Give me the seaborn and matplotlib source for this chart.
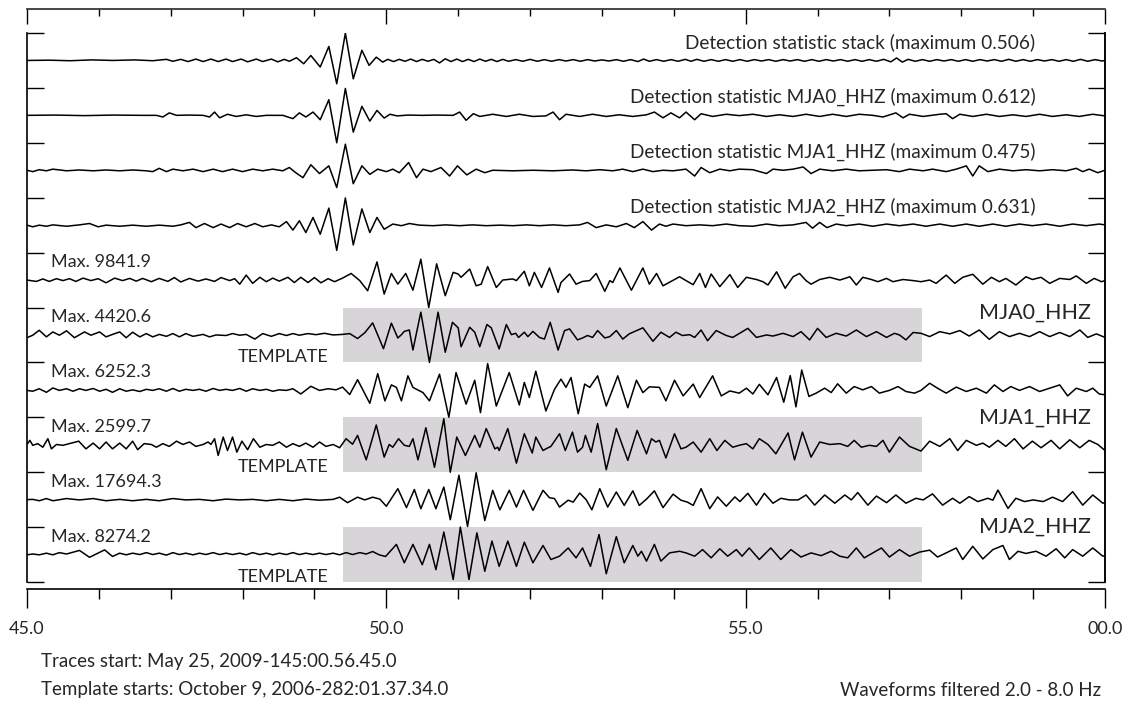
import matplotlib
matplotlib.use("Agg")
import pandas as pd
import matplotlib.pyplot as plt
from matplotlib.ticker import MultipleLocator
import seaborn as sns

# time (s after 00:56:45) and normalised amplitude of the extrema of each trace
det_stack = [
    (45.00, 0.00), (45.30, 0.01), (45.60, -0.01), (45.90, 0.02), (46.20, 0.00), (46.50, 0.02), (46.75, -0.01),
    (46.94, 0.04), (47.03, -0.03), (47.14, 0.04), (47.24, -0.04), (47.35, 0.05), (47.45, -0.04), (47.56, 0.05),
    (47.66, -0.04), (47.77, 0.05), (47.86, -0.04), (47.98, 0.05), (48.07, -0.05), (48.19, 0.05), (48.28, -0.04),
    (48.40, 0.05), (48.49, -0.05), (48.58, 0.04), (48.65, -0.03), (48.75, 0.10), (48.85, -0.12), (48.95, 0.18),
    (49.08, -0.24), (49.20, 0.51), (49.31, -0.85), (49.43, 1.00), (49.54, -0.67), (49.66, 0.37), (49.76, -0.18),
    (49.86, 0.12), (49.95, -0.06), (50.02, 0.04), (50.10, -0.04), (50.18, 0.04), (50.26, -0.03), (50.34, 0.05),
    (50.42, -0.04), (50.50, 0.04), (50.58, -0.03), (50.66, 0.04), (50.74, -0.09), (50.82, 0.06), (50.90, -0.04),
    (50.98, 0.05), (51.06, -0.04), (51.14, 0.04), (51.22, -0.04), (51.30, 0.05), (51.38, -0.03), (51.46, 0.04),
    (51.54, -0.04), (51.62, 0.04), (51.70, -0.03), (51.80, 0.03), (51.90, -0.03), (52.00, 0.04), (52.10, -0.03),
    (52.20, 0.03), (52.30, -0.03), (52.40, 0.03), (52.50, -0.02), (52.60, 0.03), (52.70, -0.03), (52.80, 0.03),
    (52.90, -0.02), (53.00, 0.02), (53.10, -0.02), (53.20, 0.03), (53.30, -0.03), (53.40, 0.03), (53.50, -0.04),
    (53.58, 0.05), (53.66, -0.03), (53.76, 0.03), (53.86, -0.03), (53.96, 0.03), (54.06, -0.03), (54.16, 0.04),
    (54.24, -0.03), (54.32, 0.04), (54.42, -0.03), (54.52, 0.03), (54.62, -0.03), (54.72, 0.03), (54.82, -0.03),
    (54.92, 0.03), (55.02, -0.03), (55.12, 0.03), (55.22, -0.02), (55.32, 0.03), (55.42, -0.03), (55.52, 0.03),
    (55.62, -0.02), (55.72, 0.03), (55.82, -0.03), (55.92, 0.03), (56.02, -0.03), (56.12, 0.03), (56.22, -0.02),
    (56.32, 0.03), (56.42, -0.03), (56.52, 0.03), (56.62, -0.03), (56.72, 0.03), (56.82, -0.03), (56.92, 0.04),
    (57.02, -0.05), (57.10, 0.09), (57.18, -0.06), (57.26, 0.04), (57.36, -0.03), (57.46, 0.03), (57.56, -0.03),
    (57.66, 0.03), (57.76, -0.02), (57.86, 0.03), (57.96, -0.03), (58.06, 0.03), (58.16, -0.03), (58.26, 0.03),
    (58.36, -0.02), (58.46, 0.03), (58.56, -0.03), (58.66, 0.04), (58.76, -0.03), (58.86, 0.03), (58.96, -0.03),
    (59.06, 0.03), (59.16, -0.02), (59.26, 0.03), (59.36, -0.03), (59.46, 0.03), (59.56, -0.03), (59.66, 0.04),
    (59.76, -0.03), (59.86, 0.03), (59.96, -0.02), (60.00, 0.00),
]

det_mja0 = [
    (45.00, 0.00), (45.40, 0.01), (45.80, -0.01), (46.20, 0.01), (46.60, 0.00), (46.80, 0.00), (46.89, -0.06),
    (46.98, 0.09), (47.08, 0.00), (47.25, 0.01), (47.45, 0.00), (47.54, -0.06), (47.61, 0.12), (47.68, -0.09),
    (47.79, 0.04), (47.91, -0.04), (48.05, 0.02), (48.19, -0.04), (48.33, 0.00), (48.56, 0.00), (48.70, -0.12),
    (48.79, 0.09), (48.88, -0.06), (48.98, 0.12), (49.08, -0.16), (49.20, 0.57), (49.31, -1.00), (49.43, 0.98),
    (49.54, -0.61), (49.66, 0.33), (49.77, -0.21), (49.87, 0.18), (49.97, -0.10), (50.05, 0.04), (50.15, -0.02),
    (50.30, 0.01), (50.50, 0.00), (50.70, 0.01), (50.93, 0.00), (51.02, 0.12), (51.11, -0.18), (51.21, 0.06),
    (51.30, -0.04), (51.48, 0.04), (51.67, -0.04), (51.85, 0.04), (52.04, -0.04), (52.22, -0.02), (52.32, 0.12),
    (52.41, -0.16), (52.50, 0.04), (52.69, -0.04), (52.87, 0.04), (53.06, -0.04), (53.24, 0.02), (53.43, -0.04),
    (53.62, 0.02), (53.73, 0.12), (53.85, -0.09), (53.96, 0.09), (54.08, -0.09), (54.17, 0.12), (54.29, -0.16),
    (54.38, 0.06), (54.54, -0.04), (54.73, 0.04), (54.91, -0.01), (55.10, 0.04), (55.29, -0.04), (55.47, 0.02),
    (55.66, -0.04), (55.84, 0.04), (56.03, -0.04), (56.21, 0.04), (56.40, -0.04), (56.58, 0.04), (56.77, 0.00),
    (56.91, -0.06), (57.09, 0.09), (57.19, -0.09), (57.28, 0.04), (57.47, -0.04), (57.70, 0.04), (57.79, 0.06),
    (57.88, -0.12), (57.98, 0.04), (58.16, -0.04), (58.35, 0.04), (58.53, -0.04), (58.72, 0.02), (58.90, -0.04),
    (59.09, 0.04), (59.27, -0.04), (59.46, 0.02), (59.64, -0.04), (59.83, 0.04), (60.00, -0.02),
]

det_mja1 = [
    (45.00, 0.00), (45.08, -0.05), (45.17, 0.02), (45.27, -0.02), (45.36, 0.04), (45.55, -0.02), (45.73, 0.01),
    (45.92, -0.02), (46.10, 0.01), (46.29, -0.02), (46.47, 0.01), (46.66, -0.02), (46.75, -0.05), (46.84, 0.07),
    (46.94, -0.05), (47.03, 0.04), (47.17, -0.02), (47.31, 0.04), (47.45, -0.05), (47.59, 0.04), (47.72, -0.05),
    (47.86, 0.04), (48.00, -0.05), (48.14, 0.04), (48.28, -0.02), (48.42, 0.04), (48.56, -0.02), (48.65, 0.10),
    (48.74, -0.09), (48.84, -0.27), (48.95, 0.20), (49.07, -0.12), (49.20, 0.16), (49.31, -0.63), (49.43, 0.95),
    (49.54, -0.49), (49.66, 0.16), (49.77, -0.15), (49.88, 0.04), (50.00, -0.05), (50.09, 0.04), (50.18, -0.09),
    (50.31, 0.28), (50.42, -0.27), (50.51, 0.04), (50.62, -0.05), (50.76, 0.10), (50.88, -0.21), (50.99, 0.16),
    (51.12, -0.17), (51.25, 0.04), (51.37, -0.09), (51.48, 0.00), (51.76, -0.02), (52.04, 0.00), (52.32, -0.02),
    (52.59, 0.01), (52.78, -0.02), (52.97, 0.02), (53.15, -0.02), (53.29, 0.04), (53.43, -0.05), (53.57, 0.04),
    (53.71, -0.05), (53.85, 0.00), (53.99, -0.02), (54.17, 0.04), (54.29, -0.21), (54.38, 0.10), (54.50, -0.09),
    (54.64, 0.04), (54.78, -0.02), (54.91, 0.04), (55.10, 0.02), (55.29, -0.12), (55.38, 0.04), (55.52, 0.00),
    (55.66, 0.04), (55.80, 0.12), (55.91, -0.12), (56.03, 0.04), (56.21, -0.02), (56.40, 0.04), (56.58, -0.02),
    (56.77, 0.00), (56.96, 0.02), (57.14, -0.05), (57.28, 0.04), (57.47, -0.02), (57.60, 0.04), (57.79, -0.05),
    (57.93, 0.04), (58.07, 0.16), (58.16, -0.21), (58.25, 0.16), (58.37, -0.05), (58.53, 0.04), (58.72, -0.02),
    (58.90, 0.02), (59.09, -0.02), (59.27, 0.02), (59.46, -0.02), (59.60, 0.07), (59.69, -0.05), (59.78, 0.04),
    (59.90, -0.09), (60.00, 0.00),
]

det_mja2 = [
    (45.00, 0.00), (45.08, -0.06), (45.17, 0.00), (45.27, -0.04), (45.36, 0.01), (45.55, -0.04), (45.73, 0.01),
    (45.87, 0.06), (45.99, -0.06), (46.10, 0.00), (46.29, -0.04), (46.47, 0.00), (46.66, -0.04), (46.84, 0.00),
    (47.03, -0.04), (47.14, 0.01), (47.26, 0.10), (47.35, -0.09), (47.47, 0.06), (47.59, -0.09), (47.70, 0.04),
    (47.82, -0.09), (47.93, 0.06), (48.05, -0.06), (48.17, 0.06), (48.28, -0.06), (48.40, 0.01), (48.51, -0.06),
    (48.61, 0.13), (48.70, -0.18), (48.79, 0.16), (48.88, -0.27), (48.98, 0.28), (49.08, -0.33), (49.20, 0.62),
    (49.31, -0.92), (49.43, 0.99), (49.54, -0.72), (49.66, 0.59), (49.77, -0.27), (49.87, 0.28), (49.97, -0.15),
    (50.09, 0.04), (50.21, -0.02), (50.32, 0.06), (50.46, 0.00), (50.65, -0.02), (50.83, 0.01), (51.02, -0.02),
    (51.20, 0.01), (51.39, -0.02), (51.58, 0.00), (51.76, -0.02), (51.95, 0.01), (52.13, -0.02), (52.32, 0.01),
    (52.50, -0.02), (52.69, 0.01), (52.80, 0.10), (52.92, -0.09), (53.06, 0.01), (53.20, -0.06), (53.34, 0.06),
    (53.45, -0.09), (53.57, 0.13), (53.69, -0.18), (53.80, 0.04), (53.89, -0.04), (53.99, 0.04), (54.17, -0.02),
    (54.36, 0.01), (54.54, -0.02), (54.73, 0.04), (54.91, -0.02), (55.10, -0.04), (55.29, 0.04), (55.47, -0.02),
    (55.66, 0.01), (55.84, 0.10), (55.93, -0.11), (56.03, 0.10), (56.13, -0.09), (56.26, 0.04), (56.40, -0.02),
    (56.58, 0.04), (56.77, -0.04), (56.96, 0.04), (57.14, -0.02), (57.33, 0.04), (57.51, -0.04), (57.70, 0.04),
    (57.88, -0.04), (58.07, 0.04), (58.25, -0.04), (58.44, 0.04), (58.62, -0.04), (58.81, 0.04), (58.99, -0.02),
    (59.18, 0.04), (59.37, -0.04), (59.55, 0.04), (59.74, -0.02), (59.92, 0.04), (60.00, 0.01),
]

wave_mja0 = [
    (45.00, 0.00), (45.13, -0.05), (45.22, 0.04), (45.31, -0.05), (45.41, 0.05), (45.50, -0.02), (45.59, 0.05),
    (45.68, -0.05), (45.78, 0.07), (45.89, -0.02), (45.99, 0.05), (46.10, -0.10), (46.22, 0.07), (46.33, -0.02),
    (46.43, 0.06), (46.52, -0.04), (46.61, 0.06), (46.73, -0.06), (46.84, 0.06), (46.96, -0.05), (47.05, 0.09),
    (47.14, -0.07), (47.26, 0.06), (47.38, -0.04), (47.49, 0.04), (47.61, -0.05), (47.70, 0.09), (47.82, -0.02),
    (47.89, 0.05), (47.96, -0.15), (48.05, 0.18), (48.14, -0.12), (48.24, 0.10), (48.33, -0.06), (48.42, 0.07),
    (48.51, -0.04), (48.63, 0.10), (48.72, -0.09), (48.81, 0.10), (48.91, -0.09), (49.00, 0.09), (49.09, -0.10),
    (49.19, 0.05), (49.28, -0.06), (49.39, 0.07), (49.51, 0.24), (49.63, -0.02), (49.74, -0.39), (49.87, 0.66),
    (49.97, -0.51), (50.07, 0.24), (50.16, -0.15), (50.27, 0.24), (50.37, -0.37), (50.48, 0.76), (50.59, -1.00),
    (50.70, 0.59), (50.82, -0.57), (50.93, 0.28), (51.00, 0.22), (51.04, 0.10), (51.16, 0.40), (51.25, -0.21),
    (51.32, -0.15), (51.41, 0.49), (51.53, -0.27), (51.62, 0.00), (51.76, 0.04), (51.81, -0.02), (51.92, 0.32),
    (51.99, -0.21), (52.06, 0.28), (52.16, -0.27), (52.27, 0.44), (52.39, -0.45), (52.43, -0.09), (52.55, 0.22),
    (52.64, -0.15), (52.73, -0.05), (52.83, -0.02), (52.92, 0.24), (53.04, -0.41), (53.11, -0.02), (53.15, -0.09),
    (53.25, 0.44), (53.41, -0.37), (53.57, 0.44), (53.66, -0.15), (53.76, 0.24), (53.85, -0.21), (53.96, -0.05),
    (54.08, 0.12), (54.17, -0.02), (54.27, -0.17), (54.36, 0.24), (54.44, -0.27), (54.52, 0.22), (54.64, -0.24),
    (54.78, 0.20), (54.89, -0.27), (55.01, 0.10), (55.15, 0.02), (55.24, -0.06), (55.31, -0.18), (55.43, 0.30),
    (55.55, -0.30), (55.66, 0.12), (55.75, 0.24), (55.84, -0.02), (55.91, -0.15), (56.03, 0.02), (56.17, 0.10),
    (56.31, 0.00), (56.45, 0.12), (56.54, -0.18), (56.63, 0.10), (56.75, 0.02), (56.84, -0.06), (56.96, 0.06),
    (57.05, -0.06), (57.19, 0.02), (57.33, -0.02), (57.44, -0.06), (57.56, 0.00), (57.65, -0.12), (57.79, 0.18),
    (57.91, -0.12), (58.02, 0.10), (58.16, 0.21), (58.30, -0.15), (58.42, 0.10), (58.53, -0.06), (58.62, 0.06),
    (58.76, -0.18), (58.90, 0.12), (58.99, 0.02), (59.11, 0.10), (59.23, -0.12), (59.37, 0.06), (59.51, 0.02),
    (59.60, 0.15), (59.74, -0.12), (59.85, 0.06), (59.95, -0.06), (60.00, -0.02),
]

tmpl_mja0 = [
    (45.00, -0.10), (45.08, -0.01), (45.17, 0.17), (45.27, -0.07), (45.36, 0.11), (45.45, -0.01), (45.55, 0.15),
    (45.66, -0.10), (45.80, 0.11), (45.89, -0.01), (46.01, 0.11), (46.10, -0.07), (46.19, 0.02), (46.29, 0.11),
    (46.38, -0.10), (46.47, 0.10), (46.57, -0.07), (46.66, 0.05), (46.75, -0.07), (46.84, 0.02), (46.94, -0.05),
    (47.03, 0.05), (47.12, -0.07), (47.21, 0.05), (47.31, -0.05), (47.45, 0.02), (47.54, -0.07), (47.63, 0.00),
    (47.77, -0.02), (47.86, 0.05), (47.96, -0.01), (48.05, 0.02), (48.17, -0.15), (48.28, 0.05), (48.40, -0.05),
    (48.51, 0.05), (48.61, -0.02), (48.70, 0.05), (48.79, -0.01), (48.91, 0.05), (49.02, 0.01), (49.14, 0.06),
    (49.26, 0.00), (49.39, 0.02), (49.49, 0.05), (49.60, -0.13), (49.70, 0.08), (49.81, 0.44), (49.96, -0.50),
    (50.07, 0.43), (50.16, -0.11), (50.21, 0.01), (50.25, 0.13), (50.32, 0.18), (50.37, -0.55), (50.48, 0.83),
    (50.60, -1.00), (50.72, 0.83), (50.82, -0.63), (50.92, 0.46), (51.00, 0.26), (51.04, -0.43), (51.16, 0.28),
    (51.23, 0.10), (51.30, -0.43), (51.40, 0.38), (51.46, 0.26), (51.57, -0.51), (51.67, 0.38), (51.74, 0.01),
    (51.80, 0.06), (51.84, -0.09), (51.92, 0.10), (51.97, -0.06), (52.04, 0.13), (52.13, -0.09), (52.20, -0.15),
    (52.28, 0.46), (52.39, -0.55), (52.48, 0.16), (52.55, 0.22), (52.66, -0.18), (52.73, -0.11), (52.80, -0.02),
    (52.87, -0.09), (52.94, 0.16), (53.04, -0.11), (53.11, -0.06), (53.20, 0.16), (53.29, -0.15), (53.38, 0.04),
    (53.57, 0.26), (53.71, -0.23), (53.82, 0.10), (53.94, -0.09), (54.03, 0.10), (54.12, -0.02), (54.22, 0.01),
    (54.29, -0.09), (54.38, 0.18), (54.47, -0.21), (54.59, 0.16), (54.73, -0.02), (54.82, -0.09), (55.03, 0.24),
    (55.15, -0.09), (55.29, 0.00), (55.38, -0.04), (55.52, 0.06), (55.66, -0.06), (55.77, 0.12), (55.89, -0.18),
    (56.00, 0.24), (56.12, -0.09), (56.26, 0.06), (56.40, -0.04), (56.54, 0.18), (56.68, -0.06), (56.82, 0.12),
    (56.96, -0.09), (57.07, 0.06), (57.14, 0.00), (57.23, -0.18), (57.33, 0.09), (57.44, 0.06), (57.56, -0.06),
    (57.70, 0.12), (57.84, 0.04), (57.98, 0.16), (58.11, -0.04), (58.25, 0.18), (58.39, -0.16), (58.53, 0.12),
    (58.67, -0.06), (58.81, 0.06), (58.95, -0.06), (59.09, 0.12), (59.23, -0.06), (59.37, 0.09), (59.51, -0.06),
    (59.65, 0.18), (59.76, -0.09), (59.88, 0.04), (60.00, -0.09),
]

wave_mja1 = [
    (45.00, -0.02), (45.08, -0.05), (45.17, 0.04), (45.27, -0.09), (45.36, 0.07), (45.45, -0.02), (45.55, 0.04),
    (45.64, -0.05), (45.73, 0.04), (45.82, -0.02), (45.92, 0.05), (46.01, -0.05), (46.10, 0.02), (46.19, -0.09),
    (46.29, 0.04), (46.38, -0.05), (46.47, 0.00), (46.57, -0.06), (46.66, 0.02), (46.75, -0.02), (46.84, 0.04),
    (46.94, -0.05), (47.03, 0.05), (47.12, -0.05), (47.21, 0.02), (47.31, -0.02), (47.40, 0.02), (47.49, -0.05),
    (47.59, 0.05), (47.68, -0.02), (47.77, 0.02), (47.86, -0.02), (47.96, 0.05), (48.05, -0.05), (48.14, 0.04),
    (48.24, -0.02), (48.33, 0.02), (48.42, -0.05), (48.51, 0.00), (48.61, -0.02), (48.70, 0.04), (48.81, -0.15),
    (48.95, 0.13), (49.07, -0.02), (49.19, 0.04), (49.30, 0.00), (49.39, 0.10), (49.49, -0.17), (49.60, 0.37),
    (49.77, -0.49), (49.88, 0.59), (49.98, -0.40), (50.07, 0.18), (50.14, 0.09), (50.21, -0.40), (50.30, 0.51),
    (50.37, 0.09), (50.42, 0.02), (50.51, -0.10), (50.60, -0.40), (50.74, 0.57), (50.87, -1.00), (50.97, 0.63),
    (51.11, -0.52), (51.23, 0.35), (51.31, -0.83), (51.41, 0.96), (51.53, -0.59), (51.71, 0.63), (51.81, -0.22),
    (51.85, -0.55), (51.92, 0.27), (51.99, -0.28), (52.08, 0.68), (52.22, -0.77), (52.34, 0.02), (52.43, 0.39),
    (52.50, 0.09), (52.57, 0.45), (52.67, -0.87), (52.76, 0.21), (52.83, 0.09), (52.94, 0.51), (53.06, -0.59),
    (53.22, 0.51), (53.36, -0.65), (53.48, 0.35), (53.57, -0.10), (53.66, 0.11), (53.80, 0.09), (53.89, -0.40),
    (54.01, 0.35), (54.13, -0.22), (54.27, 0.21), (54.36, -0.28), (54.54, 0.51), (54.66, -0.22), (54.78, -0.04),
    (54.91, -0.12), (55.01, 0.06), (55.10, -0.15), (55.19, 0.20), (55.31, -0.18), (55.43, 0.45), (55.53, -0.45),
    (55.62, 0.52), (55.70, -0.62), (55.78, 0.72), (55.88, -0.24), (55.98, -0.12), (56.10, 0.06), (56.19, -0.10),
    (56.28, 0.22), (56.40, -0.12), (56.51, 0.12), (56.63, 0.00), (56.75, 0.12), (56.86, -0.12), (57.00, -0.02),
    (57.12, 0.12), (57.23, -0.06), (57.35, -0.12), (57.44, -0.02), (57.56, 0.24), (57.67, 0.06), (57.79, -0.12),
    (57.93, 0.10), (58.07, -0.06), (58.21, 0.06), (58.35, -0.12), (58.46, 0.18), (58.58, -0.06), (58.69, 0.12),
    (58.81, -0.02), (58.95, 0.12), (59.09, -0.06), (59.23, 0.06), (59.37, 0.18), (59.48, -0.22), (59.60, 0.06),
    (59.74, -0.06), (59.83, 0.06), (59.92, -0.15), (60.00, -0.18),
]

tmpl_mja1 = [
    (45.00, 0.01), (45.04, 0.16), (45.08, -0.02), (45.15, 0.04), (45.22, -0.09), (45.29, 0.22), (45.34, -0.15),
    (45.41, 0.01), (45.50, -0.02), (45.59, 0.04), (45.72, 0.13), (45.82, -0.15), (45.92, 0.06), (46.01, -0.15),
    (46.10, 0.10), (46.19, -0.15), (46.29, 0.06), (46.38, -0.15), (46.47, 0.13), (46.54, -0.18), (46.63, 0.04),
    (46.73, 0.01), (46.80, -0.09), (46.89, 0.04), (46.98, -0.06), (47.08, 0.13), (47.17, 0.01), (47.26, 0.10),
    (47.35, -0.06), (47.45, 0.01), (47.52, 0.10), (47.56, 0.01), (47.61, 0.22), (47.66, -0.39), (47.73, 0.28),
    (47.79, -0.21), (47.86, 0.28), (47.92, -0.27), (47.99, 0.13), (48.07, -0.18), (48.15, 0.22), (48.24, -0.09),
    (48.33, 0.01), (48.42, -0.02), (48.51, 0.10), (48.61, -0.09), (48.70, 0.04), (48.79, -0.06), (48.88, 0.06),
    (48.98, -0.09), (49.07, 0.10), (49.16, -0.06), (49.26, 0.01), (49.35, -0.11), (49.44, 0.22), (49.53, 0.02),
    (49.60, 0.34), (49.72, -0.55), (49.86, 0.72), (49.97, -0.45), (50.04, 0.01), (50.09, -0.09), (50.17, 0.22),
    (50.25, -0.02), (50.32, -0.06), (50.37, 0.22), (50.44, -0.55), (50.55, 0.62), (50.67, -0.82), (50.80, 0.95),
    (50.89, -1.00), (50.98, 0.28), (51.10, -0.39), (51.23, 0.34), (51.30, -0.09), (51.39, 0.59), (51.51, -0.15),
    (51.55, -0.09), (51.57, -0.21), (51.69, 0.59), (51.81, -0.67), (51.92, 0.40), (52.03, -0.30), (52.08, 0.28),
    (52.18, -0.21), (52.22, -0.15), (52.29, -0.06), (52.41, 0.40), (52.49, -0.21), (52.59, 0.46), (52.66, -0.27),
    (52.73, -0.09), (52.77, 0.34), (52.85, -0.27), (52.94, 0.77), (53.06, -0.91), (53.20, 0.59), (53.36, -0.57),
    (53.49, 0.52), (53.62, -0.33), (53.69, 0.22), (53.75, 0.10), (53.80, 0.16), (53.89, -0.48), (54.01, 0.40),
    (54.10, -0.15), (54.17, -0.09), (54.27, 0.10), (54.38, -0.27), (54.50, 0.22), (54.60, -0.21), (54.71, 0.16),
    (54.82, -0.09), (54.91, -0.02), (55.01, 0.04), (55.10, -0.15), (55.19, 0.22), (55.31, 0.01), (55.42, -0.33),
    (55.59, 0.43), (55.68, -0.55), (55.79, 0.46), (55.91, -0.45), (56.03, 0.10), (56.17, 0.01), (56.31, 0.04),
    (56.42, -0.06), (56.51, 0.16), (56.61, -0.09), (56.72, -0.02), (56.82, -0.06), (56.91, 0.16), (57.00, -0.27),
    (57.14, 0.28), (57.28, -0.06), (57.44, -0.23), (57.56, 0.13), (57.70, -0.06), (57.84, 0.22), (57.95, -0.21),
    (58.07, 0.16), (58.21, -0.02), (58.30, 0.06), (58.39, -0.09), (58.51, 0.16), (58.62, -0.06), (58.74, 0.22),
    (58.86, -0.15), (58.99, 0.13), (59.11, -0.11), (59.25, 0.16), (59.37, -0.15), (59.51, 0.18), (59.65, -0.11),
    (59.78, 0.16), (59.90, 0.01), (60.00, -0.21),
]

wave_mja2 = [
    (45.00, 0.00), (45.08, 0.01), (45.17, -0.04), (45.27, 0.04), (45.36, -0.04), (45.55, 0.04), (45.73, -0.01),
    (45.92, 0.04), (46.10, -0.04), (46.29, 0.01), (46.47, -0.04), (46.66, 0.01), (46.84, -0.04), (47.03, 0.04),
    (47.21, -0.01), (47.40, 0.01), (47.59, -0.04), (47.77, 0.02), (47.96, -0.01), (48.14, 0.01), (48.33, -0.04),
    (48.51, 0.01), (48.70, -0.04), (48.88, 0.02), (49.07, -0.02), (49.26, 0.01), (49.35, 0.09), (49.46, -0.11),
    (49.60, 0.09), (49.70, -0.01), (49.81, 0.09), (49.91, 0.02), (50.00, -0.24), (50.16, 0.40), (50.28, -0.29),
    (50.39, 0.37), (50.48, -0.33), (50.59, 0.37), (50.69, -0.33), (50.80, 0.46), (50.89, -0.73), (51.01, 0.89),
    (51.13, -0.98), (51.25, 0.98), (51.37, -0.76), (51.48, 0.34), (51.58, -0.37), (51.71, 0.34), (51.81, -0.27),
    (51.91, 0.34), (52.04, -0.39), (52.18, 0.34), (52.27, 0.07), (52.34, 0.04), (52.41, -0.27), (52.53, -0.02),
    (52.60, -0.09), (52.69, 0.24), (52.78, 0.00), (52.86, -0.37), (52.97, 0.40), (53.08, -0.27), (53.20, 0.28),
    (53.31, -0.21), (53.43, 0.32), (53.52, -0.21), (53.62, 0.02), (53.73, 0.32), (53.85, -0.29), (53.99, 0.20),
    (54.10, -0.02), (54.19, -0.09), (54.27, -0.21), (54.38, 0.40), (54.50, -0.33), (54.61, 0.10), (54.73, -0.24),
    (54.85, 0.10), (54.92, -0.07), (55.03, 0.23), (55.15, -0.20), (55.26, 0.23), (55.38, -0.13), (55.49, 0.05),
    (55.61, -0.01), (55.73, -0.01), (55.84, 0.17), (55.96, -0.20), (56.10, 0.17), (56.24, -0.13), (56.38, 0.17),
    (56.47, -0.01), (56.56, 0.26), (56.70, -0.20), (56.82, 0.13), (56.96, -0.11), (57.09, 0.17), (57.23, -0.13),
    (57.37, 0.05), (57.47, -0.01), (57.60, 0.21), (57.74, -0.20), (57.88, 0.05), (57.98, -0.13), (58.11, 0.11),
    (58.23, -0.07), (58.37, 0.05), (58.44, -0.02), (58.51, 0.35), (58.65, -0.32), (58.76, 0.05), (58.88, -0.07),
    (59.00, -0.01), (59.14, -0.07), (59.27, 0.09), (59.41, -0.07), (59.55, 0.29), (59.69, -0.20), (59.83, 0.17),
    (59.97, -0.13), (60.00, -0.10),
]

tmpl_mja2 = [
    (45.00, -0.01), (45.08, 0.02), (45.17, -0.01), (45.27, 0.05), (45.36, -0.01), (45.45, 0.07), (45.55, 0.02),
    (45.73, 0.15), (45.87, -0.10), (46.08, 0.17), (46.19, -0.07), (46.29, 0.05), (46.38, -0.01), (46.47, 0.05),
    (46.57, 0.00), (46.66, 0.07), (46.75, 0.00), (46.84, 0.05), (46.94, -0.02), (47.03, 0.07), (47.12, 0.00),
    (47.21, 0.05), (47.31, -0.01), (47.40, 0.05), (47.49, 0.00), (47.59, 0.07), (47.68, 0.00), (47.77, 0.05),
    (47.86, 0.00), (47.96, 0.05), (48.05, -0.01), (48.14, 0.07), (48.24, 0.00), (48.33, 0.05), (48.42, -0.01),
    (48.51, 0.05), (48.61, 0.00), (48.70, 0.07), (48.79, 0.00), (48.88, 0.05), (48.98, 0.00), (49.07, 0.05),
    (49.16, 0.00), (49.26, 0.05), (49.35, -0.01), (49.44, 0.07), (49.53, 0.00), (49.63, 0.07), (49.72, 0.02),
    (49.81, 0.11), (49.90, -0.01), (49.99, -0.07), (50.14, 0.37), (50.25, -0.30), (50.37, 0.37), (50.50, -0.37),
    (50.60, 0.37), (50.69, -0.55), (50.80, 0.82), (50.93, -0.91), (51.03, 1.00), (51.15, -0.91), (51.26, 0.79),
    (51.37, -0.61), (51.47, 0.49), (51.57, -0.43), (51.69, 0.49), (51.81, -0.43), (51.92, 0.45), (52.04, -0.30),
    (52.18, 0.33), (52.29, -0.18), (52.41, -0.06), (52.53, 0.24), (52.64, -0.12), (52.73, 0.24), (52.84, -0.43),
    (52.96, 0.73), (53.06, -0.70), (53.20, 0.65), (53.31, -0.30), (53.43, 0.33), (53.50, -0.06), (53.55, 0.12),
    (53.62, -0.24), (53.73, 0.37), (53.82, -0.24), (53.94, 0.06), (54.08, 0.12), (54.17, 0.06), (54.29, -0.06),
    (54.40, 0.18), (54.52, -0.12), (54.64, 0.21), (54.75, -0.06), (54.87, 0.18), (54.95, -0.06), (55.05, 0.24),
    (55.19, -0.18), (55.35, 0.24), (55.49, -0.18), (55.63, 0.18), (55.77, -0.09), (55.91, 0.06), (56.05, -0.04),
    (56.19, 0.12), (56.31, -0.06), (56.42, -0.12), (56.54, 0.24), (56.65, -0.12), (56.77, 0.06), (56.89, 0.24),
    (57.00, -0.09), (57.14, 0.18), (57.28, -0.06), (57.42, 0.09), (57.56, 0.16), (57.67, -0.09), (57.79, 0.06),
    (57.93, 0.24), (58.02, -0.18), (58.16, 0.30), (58.30, -0.16), (58.44, 0.18), (58.58, 0.33), (58.67, -0.18),
    (58.79, 0.12), (58.90, 0.04), (59.04, 0.12), (59.18, -0.06), (59.32, 0.21), (59.44, -0.12), (59.55, 0.18),
    (59.69, -0.06), (59.83, 0.24), (59.97, -0.06), (60.00, -0.04),
]

det_labels = [
    "Detection statistic stack (maximum 0.506)",
    "Detection statistic MJA0_HHZ (maximum 0.612)",
    "Detection statistic MJA1_HHZ (maximum 0.475)",
    "Detection statistic MJA2_HHZ (maximum 0.631)",
]
max_labels = ["Max. 9841.9", "Max. 4420.6", "Max. 6252.3", "Max. 2599.7", "Max. 17694.3", "Max. 8274.2"]
station_names = ["MJA0_HHZ", "MJA1_HHZ", "MJA2_HHZ"]
tick_values = [45, 50, 55, 60]
tick_labels = ["45.0", "50.0", "55.0", "00.0"]
template_start, template_end = 49.40, 57.45

traces = [det_stack, det_mja0, det_mja1, det_mja2,
          wave_mja0, tmpl_mja0, wave_mja1, tmpl_mja1, wave_mja2, tmpl_mja2]
n = len(traces)

rows = []
for i, tr in enumerate(traces):
    base = n - i - 0.5
    for t, a in tr:
        rows.append({"trace": i, "t": t, "y": base + 0.5 * a})
df = pd.DataFrame(rows)

sns.set_style("white")
plt.rcParams["font.family"] = ["Lato", "DejaVu Sans"]

W, H = 1133, 711
fig = plt.figure(figsize=(W / 100, H / 100), dpi=100)
ax = fig.add_axes([27 / W, 1 - 582 / H, 1078 / W, 549 / H])

# grey template windows
for k in range(3):
    base = n - (5 + 2 * k) - 0.5
    ax.fill_between([template_start, template_end], base - 0.5, base + 0.5,
                    color="#d8d5d9", lw=0, zorder=0)

sns.lineplot(data=df, x="t", y="y", units="trace", estimator=None, color="black",
             linewidth=1.1, solid_joinstyle="round", legend=False, ax=ax, zorder=2)

ax.set_xlim(45, 60)
ax.set_ylim(0, n)
ax.set_xlabel("")
ax.set_ylabel("")

# frame
for side in ["left", "right", "bottom"]:
    ax.spines[side].set_visible(True)
    ax.spines[side].set_linewidth(1.2)
    ax.spines[side].set_color("black")
ax.spines["top"].set_visible(False)
ax.spines["bottom"].set_position(("outward", 5))

# left ticks on every trace boundary, right ticks skip the station-name slots
ax.set_yticks(range(n + 1))
ax.tick_params(axis="y", direction="in", length=12, width=1.0, left=True, right=False,
               labelleft=False, color="black")
right = ax.secondary_yaxis("right")
right.set_yticks([0, 2, 4, 6, 7, 8, 9, 10])
right.tick_params(axis="y", direction="in", length=12, width=1.0, labelright=False,
                  labelleft=False, color="black")
for sp in right.spines.values():
    sp.set_linewidth(1.2)

ax.set_xticks(tick_values, tick_labels)
ax.xaxis.set_minor_locator(MultipleLocator(1))
ax.tick_params(axis="x", which="major", direction="out", length=14, width=1.0, top=False,
               bottom=True, pad=9, labelsize=13, color="black")
ax.tick_params(axis="x", which="minor", direction="out", length=7, width=1.0, top=False,
               bottom=True, color="black")

top = ax.secondary_xaxis(1 + 23.5 / 549)
top.xaxis.set_major_locator(MultipleLocator(5))
top.xaxis.set_minor_locator(MultipleLocator(1))
top.tick_params(axis="x", which="major", direction="in", length=10.5, width=1.0,
                labeltop=False, labelbottom=False, color="black")
top.tick_params(axis="x", which="minor", direction="in", length=5, width=1.0, color="black")
for sp in top.spines.values():
    sp.set_linewidth(1.2)

# labels
for i, lab in enumerate(det_labels):
    ax.text(59.03, n - i - 0.5 + 0.33, lab, ha="right", va="center", fontsize=13.7)
for j, lab in enumerate(max_labels):
    ax.text(45.33, n - (4 + j) - 0.5 + 0.32, lab, ha="left", va="center", fontsize=13)
station_offsets = [0.40, 0.49, 0.50]
for k, name in enumerate(station_names):
    base = n - (5 + 2 * k) - 0.5
    ax.text(49.20, base - 0.41, "TEMPLATE", ha="right", va="center", fontsize=13)
    ax.text(59.81, base + station_offsets[k], name, ha="right", va="center", fontsize=15.5)

fig.text(41 / W, 1 - 662 / H, "Traces start: May 25, 2009-145:00.56.45.0",
         ha="left", va="center", fontsize=13.5)
fig.text(41 / W, 1 - 690 / H, "Template starts: October 9, 2006-282:01.37.34.0",
         ha="left", va="center", fontsize=13.5)
fig.text(1101 / W, 1 - 691 / H, "Waveforms filtered 2.0 - 8.0 Hz",
         ha="right", va="center", fontsize=13.5)

fig.savefig("out.png", dpi=100)
